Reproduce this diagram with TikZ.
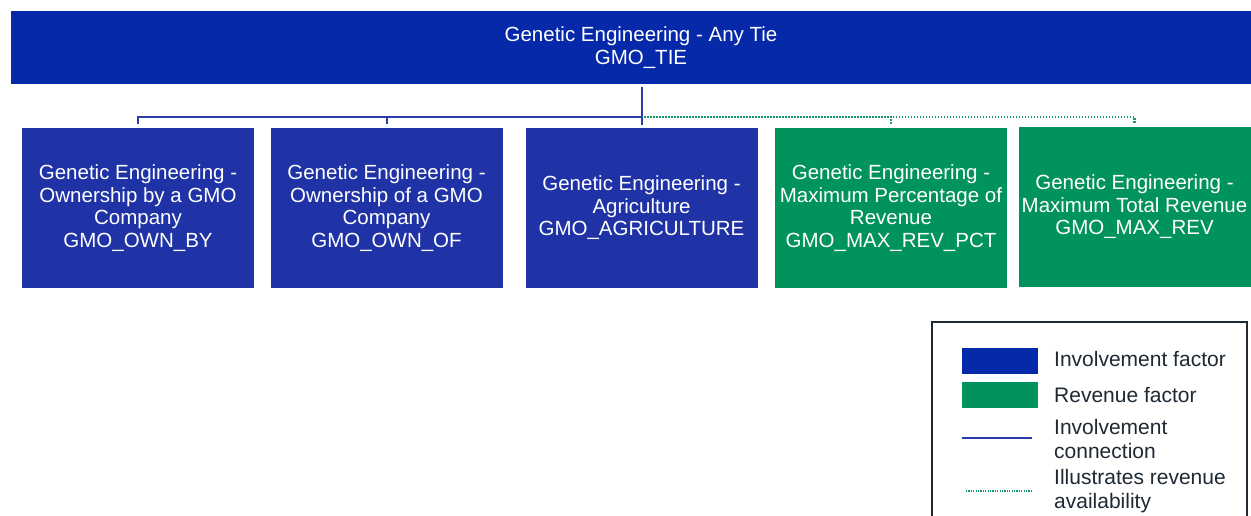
\documentclass[tikz,border=0pt]{standalone}
\usepackage{fontspec}
\setmainfont{Liberation Sans}
\usepackage{tikz}
\usetikzlibrary{positioning}

\definecolor{tieblue}{HTML}{0529A9}
\definecolor{invblue}{HTML}{1F33A6}
\definecolor{revgreen}{HTML}{00935C}
\definecolor{linkblue}{HTML}{2B3DAA}
\definecolor{linkgreen}{HTML}{169A66}
\definecolor{legtext}{HTML}{1F2933}

\begin{document}
\begin{tikzpicture}[x=1pt, y=-1pt,
        factor/.style={inner sep=0pt, align=center, text=white,
            minimum width=232pt, minimum height=160pt,
            font=\fontsize{20.5}{22.6}\selectfont},
        invbox/.style={factor, fill=invblue},
        revbox/.style={factor, fill=revgreen},
        invline/.style={draw=linkblue, line width=2pt},
        revline/.style={draw=linkgreen, line width=2.2pt, dash pattern=on 1.5pt off 1.5pt},
        legtxt/.style={anchor=west, align=left, inner sep=0pt, text=legtext,
            font=\fontsize{21}{24}\selectfont}]

        \clip (0,0) rectangle (1251,515);
        \fill[white] (0,0) rectangle (1251,515);

        \node[factor, fill=tieblue, minimum width=1260pt, minimum height=73pt] (tie) at (641,47.5)
            {Genetic Engineering - Any Tie\\GMO\_TIE};

        \node[invbox] (ownby)  at (138,208)   {Genetic Engineering -\\Ownership by a GMO\\Company\\GMO\_OWN\_BY};
        \node[invbox] (ownof)  at (386.5,208) {Genetic Engineering -\\Ownership of a GMO\\Company\\GMO\_OWN\_OF};
        \node[invbox] (agri)   at (641.5,208) {Genetic Engineering -\\Agriculture\\GMO\_AGRICULTURE};
        \node[revbox] (maxpct) at (891,208)   {Genetic Engineering -\\Maximum Percentage of\\Revenue\\GMO\_MAX\_REV\_PCT};
        \node[revbox] (maxrev) at (1134.5,207) {Genetic Engineering -\\Maximum Total Revenue\\GMO\_MAX\_REV};

        \coordinate (hub) at (641,117);

        % revenue availability
        \draw[revline, shorten <=4pt] (maxpct.north) |- (hub);
        \draw[revline, shorten <=4pt] (maxrev.north) |- (hub);

        % involvement connections
        \draw[invline, shorten <=3pt, shorten >=3pt] (tie.south -| agri.north) -- (agri.north);
        \draw[invline, shorten <=4pt] (ownby.north) |- (hub);
        \draw[invline, shorten <=4pt] (ownof.north) |- (hub);

        % legend
        \draw[draw=legtext, line width=2.5pt] (932,322) rectangle (1247,560);
        \node[fill=tieblue, minimum width=76pt, minimum height=26pt, inner sep=0pt] (keyinv) at (1000,361) {};
        \node[fill=revgreen, minimum width=76pt, minimum height=26pt, inner sep=0pt] (keyrev) at (1000,395) {};
        \coordinate (keylinkA) at (962,438);
        \coordinate (keylinkB) at (1032,438);
        \coordinate (keyavA) at (966,491);
        \coordinate (keyavB) at (1033,491);
        \draw[invline, line width=1.8pt] (keylinkA) -- (keylinkB);
        \draw[draw=linkgreen, line width=1.6pt, dash pattern=on 1.2pt off 1.2pt] (keyavA) -- (keyavB);

        \node[legtxt] (txtinv)  at (1054,359) {Involvement factor};
        \node[legtxt] (txtrev)  at (1054,395) {Revenue factor};
        \node[legtxt] (txtlink) at (1054,439) {Involvement\\connection};
        \node[legtxt] (txtav)   at (1054,491) {Illustrates revenue\\availability};
    \end{tikzpicture}
\end{document}
